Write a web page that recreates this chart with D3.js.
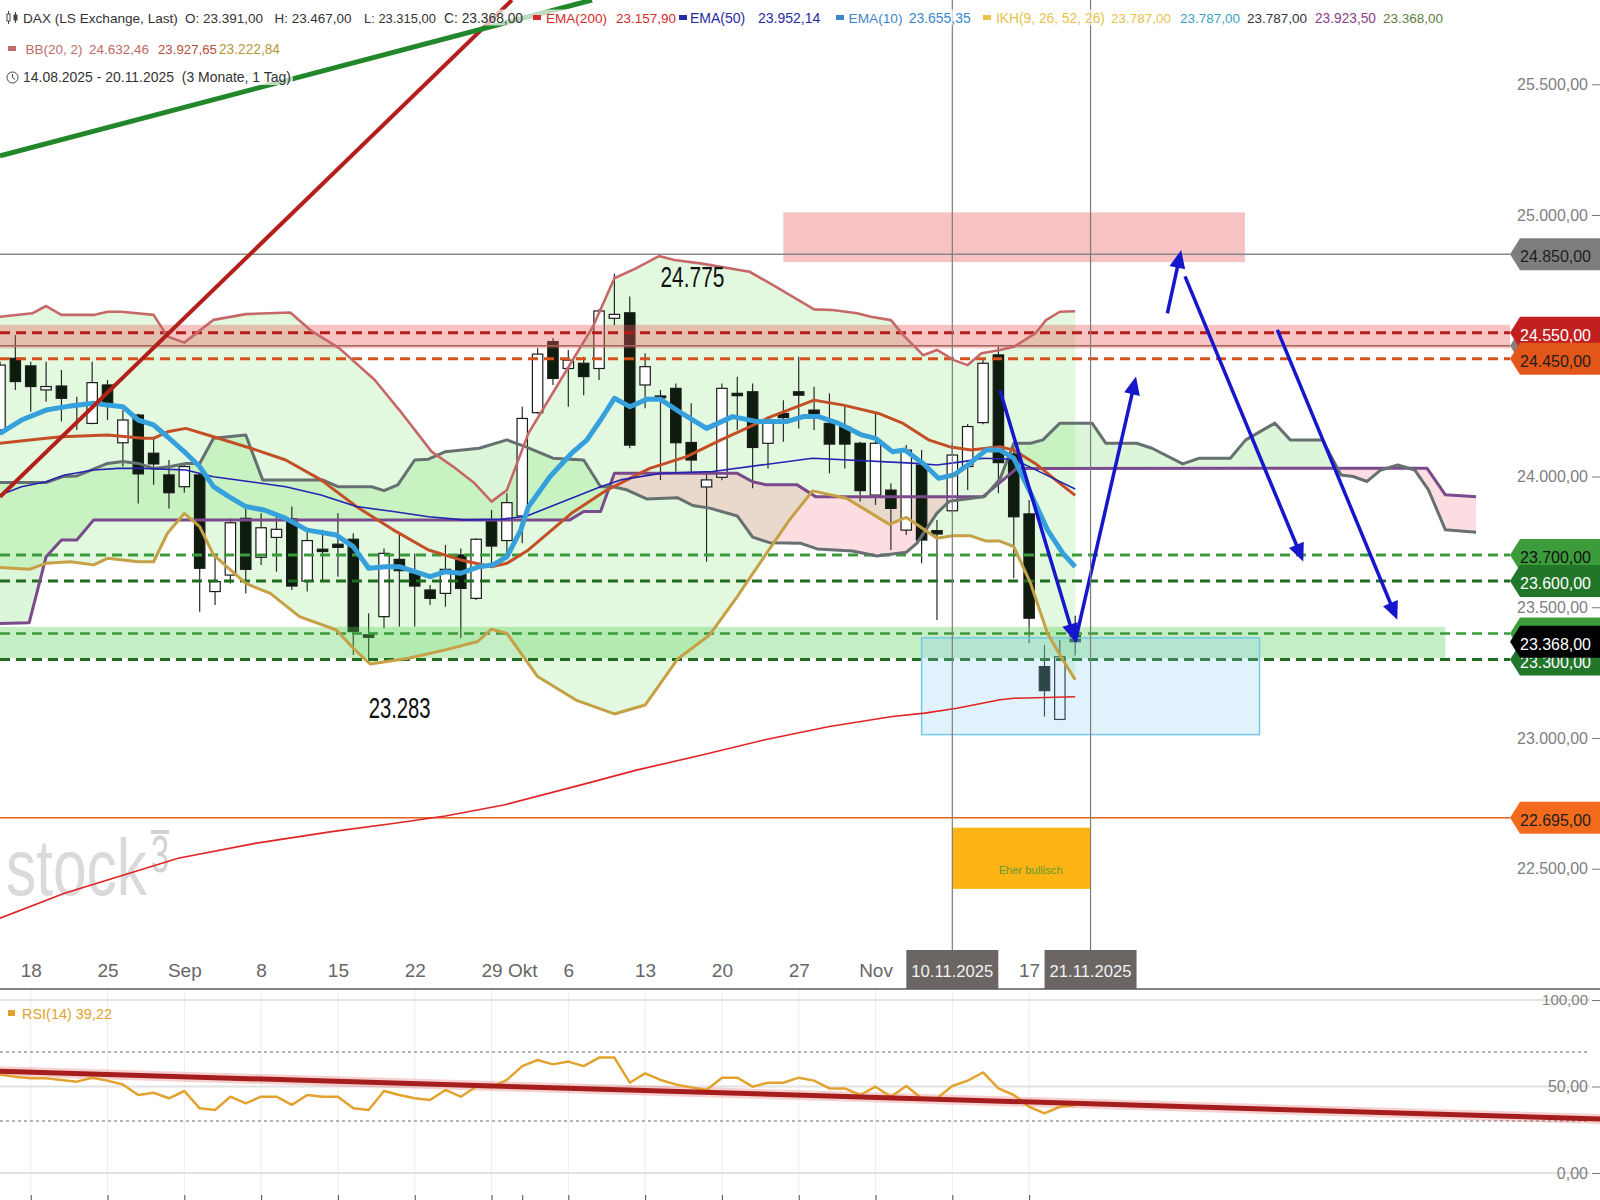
<!DOCTYPE html>
<html><head><meta charset="utf-8">
<script src="https://cdn.jsdelivr.net/npm/d3@7"></script>
<style>html,body{margin:0;padding:0;background:#fff;}svg{display:block;font-family:"Liberation Sans",Arial,sans-serif;}text{white-space:pre;}</style>
</head><body><svg id="chart" width="1600" height="1200"></svg>
<script>
// ---------- DATA ----------
const openVals  = [24178,24452,24423,24331,24346,24270,24203,24350,24129,24235,24089,24006,23961,24006,23560,23623,23840,23691,23767,23838,23600,23722,23741,23760,23395,23464,23683,23630,23566,23553,23700,23534,23834,23755,23849,24244,24516,24413,24433,24413,24605,24626,24350,24308,24337,24130,23960,23997,24318,24324,24127,24241,24324,24254,24203,24190,24127,23929,23948,23795,24044,23793,23869,24038,24206,24465,24086,23857,23273,23071,23391];
const highVals  = [24440,24541,24439,24439,24407,24305,24439,24369,24254,24240,24152,24063,24050,24012,23693,23840,23885,23859,23846,23885,23796,23796,23859,23783,23477,23725,23776,23706,23585,23738,23725,23764,23872,23936,24267,24490,24530,24484,24458,24640,24775,24688,24471,24331,24356,24280,24012,24356,24381,24356,24229,24292,24458,24343,24318,24267,24133,24248,23974,24120,24101,23834,24127,24201,24446,24497,24120,23910,23356,23375,23467];
const lowVals   = [24160,24331,24248,24286,24210,24178,24200,24216,24038,23897,23968,23878,23938,23483,23509,23591,23553,23662,23636,23566,23560,23604,23617,23317,23283,23420,23426,23426,23509,23502,23381,23528,23668,23693,23745,24240,24350,24267,24311,24369,24579,24108,24261,23986,24018,24018,23674,23986,24178,23955,24031,24133,24184,24178,24012,24031,23904,23891,23719,23776,23668,23451,23860,23948,24200,23936,23611,23362,23082,23071,23315];
const closeVals = [24426,24363,24344,24344,24299,24276,24359,24280,24216,24010,24048,23938,24038,23649,23598,23823,23645,23804,23798,23581,23755,23713,23729,23407,23385,23706,23640,23581,23534,23645,23572,23760,23734,23900,24222,24468,24375,24445,24382,24633,24620,24120,24420,24301,24129,24063,23987,24337,24309,24111,24203,24225,24311,24241,24124,24124,23946,24127,23878,24101,23757,23780,24082,24191,24433,24053,23846,23458,23181,23311,23368];

const ema10 = [[0,24165],[1.4,24216],[3,24254],[4.6,24270],[6.1,24280],[7,24273],[8,24267],[9,24216],[10,24197],[10.9,24152],[12.1,24089],[13,24038],[13.9,23961],[14.9,23923],[16,23885],[17.2,23872],[18.6,23840],[20,23795],[21.9,23776],[23,23732],[24,23649],[25.1,23655],[26,23655],[27,23636],[28,23617],[29,23636],[30,23630],[31.2,23655],[32.1,23662],[33,23693],[33.9,23795],[34.4,23884],[35.8,23999],[37.2,24088],[38.2,24139],[39.1,24216],[40,24299],[41,24267],[42.1,24295],[43,24295],[44.4,24241],[46,24184],[47.7,24229],[49.3,24210],[51.2,24210],[52.3,24229],[53.3,24229],[54.6,24203],[56.1,24159],[57,24146],[58.1,24095],[58.9,24101],[60.1,24050],[61.1,23993],[62.1,24006],[63,24044],[64.2,24101],[65.1,24101],[66,24070],[67.1,23936],[68.2,23795],[69.2,23706],[70,23655]];
const ema50 = [[0,23929],[1.4,23961],[3,23980],[4.2,24006],[6.1,24025],[7.7,24031],[9.3,24031],[12.1,24025],[13.9,23999],[16.3,23980],[18.6,23961],[20.9,23929],[23.2,23885],[25.6,23866],[27.9,23846],[30.2,23834],[32.6,23836],[34.3,23849],[39.1,23961],[40.4,23987],[43,24012],[46.4,24019],[52.9,24070],[59.4,24051],[61,24044],[62.7,24057],[64,24070],[66,24066],[67.9,24012],[70,23952]];
const ema200 = [[0,22311],[4.2,22406],[7,22457],[11.6,22540],[16.6,22597],[21.6,22642],[25.7,22674],[29,22702],[32.8,22744],[37.4,22814],[41.5,22878],[45.7,22935],[49.8,22993],[54,23044],[58.1,23082],[60.2,23095],[62.3,23114],[65.1,23146],[66,23152],[70,23158]];
const bbUpper = [[0,24611],[2.1,24624],[3,24652],[4,24618],[6.1,24618],[7,24630],[7.9,24630],[10,24618],[10.9,24535],[12,24512],[13.9,24599],[16,24621],[18.9,24627],[20.2,24560],[22.1,24490],[24.4,24369],[26,24254],[28.1,24095],[29.5,24038],[30.9,23974],[32,23904],[33,23948],[34.4,24165],[36.5,24369],[38.6,24573],[40,24758],[41.4,24796],[42.9,24843],[43.9,24828],[45.6,24815],[48.8,24783],[50.5,24726],[53,24639],[54.2,24637],[55.8,24624],[56.7,24611],[58,24598],[58.9,24535],[60.1,24464],[61,24484],[62.1,24445],[63,24426],[63.9,24471],[65.1,24484],[66,24496],[67.4,24547],[68.1,24598],[69,24630],[70,24632]];
const bbMiddle = [[0,24127],[3,24146],[4,24152],[7,24159],[9.3,24146],[10,24146],[10.9,24171],[12.1,24184],[13.9,24152],[16.7,24101],[18.6,24063],[20.9,23987],[23.2,23885],[25.6,23796],[27.9,23719],[30,23681],[32,23655],[33,23668],[34.4,23719],[37.2,23859],[39.5,23948],[42.3,24031],[44.7,24076],[46.9,24139],[48.8,24190],[50.2,24229],[53,24292],[54.9,24273],[57.2,24241],[58.8,24203],[60.5,24139],[61.8,24114],[63.2,24101],[65.1,24114],[66,24101],[67.4,24050],[69,23974],[70,23928]];
const bbLower = [[0,23652],[1.9,23645],[3,23668],[4.6,23674],[6.1,23662],[7,23687],[9,23674],[10,23674],[10.9,23783],[12,23859],[13,23808],[13.9,23700],[16,23591],[17.6,23553],[19.5,23464],[21.9,23413],[23,23343],[24.1,23283],[26.6,23305],[29,23337],[31.1,23369],[32,23416],[33,23400],[35,23235],[37.5,23145],[40,23092],[42,23126],[44.1,23301],[46.2,23394],[48,23541],[49.9,23706],[51.4,23834],[52.9,23945],[55.1,23917],[56.2,23878],[57.9,23817],[59,23844],[61,23764],[62,23773],[63.2,23773],[64.2,23753],[65.1,23753],[66,23732],[67.1,23591],[68.2,23400],[69.2,23298],[70,23223]];
const spanA = [[0,23977],[3,23977],[4.1,24000],[5,24002],[7,24050],[8,24057],[9,24050],[10,24031],[11.1,24038],[12.1,24050],[13,24050],[13.9,24146],[16,24159],[17.1,23987],[21,23987],[22,23961],[24.2,23961],[25,23946],[25.9,23968],[27,24063],[27.9,24066],[29,24095],[31.2,24108],[33,24140],[34.2,24114],[36,24070],[38,24063],[39.1,23961],[39.9,23961],[40.8,23949],[42.1,23914],[44.1,23919],[45.1,23889],[46.2,23879],[48,23849],[49,23768],[50.1,23747],[52.1,23745],[53.2,23723],[55.5,23715],[57.1,23696],[59,23710],[59.7,23745],[61,23860],[61.8,23905],[64.1,23923],[65.1,23990],[66,24127],[67.1,24127],[67.9,24140],[69,24204],[71.1,24204],[72,24127],[74,24127],[75,24108],[77,24048],[78.1,24070],[80.1,24070],[81.1,24140],[83,24204],[84,24140],[86.1,24140],[87.3,24006],[88.1,24000],[89,23981],[89.9,24025],[91,24044],[92.1,24025],[93,23949],[94.1,23796],[96.1,23787]];
const spanB = [[0,23438],[1.9,23441],[3,23693],[4,23757],[5,23757],[6.1,23834],[37.1,23834],[38,23866],[39.1,23866],[40,24012],[48,24012],[49,23980],[49.9,23968],[51.9,23968],[53.1,23923],[64,23923],[66.2,24031],[92.9,24032],[94.1,23930],[96.1,23923]];
const rsiVals = [57.0,55.7,54.7,54.7,53.8,52.8,55.1,53.4,51.2,45.1,46.4,43.2,47.4,37.4,36.4,44.1,40.3,44.1,44.1,39.4,45.1,44.1,44.1,37.4,36.4,47.4,45.1,43.2,42.2,48.0,44.1,49.9,49.5,53.8,61.8,65.3,62.8,64.4,61.8,66.7,66.7,52.2,57.6,53.8,51.2,49.5,48.0,55.1,55.1,49.9,52.2,52.2,55.1,53.4,48.9,48.9,45.1,49.9,44.1,50.3,43.2,43.2,50.3,53.4,58.1,48.9,45.1,38.3,34.5,38.3,39.2];
const rsiTrend = [[0,58.8],[104.17,31.2]];
const redTrend = [[0,23922],[33.33,25822]];
const greenTrend = [[0,25226],[38.54,25822]];
const levelValues = [24850,24550,24500,24450,23700,23600,23400,23300,22695];
const flagValues = [24500,24850,24550,24450,23700,23600,23400,23300,23368,22695];
const hiddenFlagText = [24500,23400];
const priceTicks = [22500,23000,23500,24000,25000,25500];
const supportZone = [23305,23425];
const resistZone = [24490,24580];
const targetZone = {i0:51.0,i1:81.05,v0:24820,v1:25010};
const blueZone = {i0:60.0,i1:82.0,v0:23013,v1:23383};
const signalBox = {i0:62,i1:71,v0:22423,v1:22657};
const arrows = [[[65.1,24330],[70.0,23368]],[[70.0,23368],[73.96,24382]],[[76.0,24624],[76.9,24866]],[[77.15,24765],[84.85,23675]],[[83.16,24561],[90.97,23452]]];
const tickIdx = [2,7,12,17,22,27,32,34,37,42,47,52,57,67];
const tickLabels = ["18","25","Sep","8","15","22","29","Okt","6","13","20","27","Nov","17"];
const boxIdx = [62,71];
const boxLabels = ["10.11.2025","21.11.2025"];
const mondayIdx = [2,7,12,17,22,27,32,37,42,47,52,57,62,67];
const bottomTickIdx = [2,7,12,17,22,27,32,34,37,42,47,52,57,62,67];
const annotations = [{i:43.0,v:24725,t:"24.775"},{i:24.0,v:23076,t:"23.283"}];

// ---------- SCALES ----------
const svg = d3.select('#chart');
const x = d3.scaleLinear().domain([0, 1600/15.36]).range([0,1600]);
const y = d3.scaleLinear().domain([22196.9, 25822.2]).range([948, 0]);
const yR = d3.scaleLinear().domain([0,100]).range([1173,1000]);
const loc = d3.formatLocale({decimal:",",thousands:".",grouping:[3],currency:["",""]});
const fmt = loc.format(",.2f");
const NARROW = '"Liberation Sans Narrow","Arial Narrow","Liberation Sans",Arial,sans-serif';

const defs = svg.append('defs');
defs.append('clipPath').attr('id','plotClip').append('rect').attr('x',0).attr('y',0).attr('width',1600).attr('height',948);
defs.append('clipPath').attr('id','aboveB').append('path').attr('d', d3.area().x(d=>x(d[0])).y0(0).y1(d=>y(d[1]))(spanB));
defs.append('clipPath').attr('id','belowB').append('path').attr('d', d3.area().x(d=>x(d[0])).y0(d=>y(d[1])).y1(948)(spanB));

const line = d3.line().x(d=>x(d[0])).y(d=>y(d[1]));
function between(a,b){
  const pa=a.map(p=>[x(p[0]),y(p[1])]);
  const pb=b.slice().reverse().map(p=>[x(p[0]),y(p[1])]);
  return 'M'+pa.concat(pb).map(p=>p[0].toFixed(1)+','+p[1].toFixed(1)).join('L')+'Z';
}
function fit(t,maxW){
  const n=t.node(); const s=+t.attr('font-size'); const w=n.getComputedTextLength();
  if(w>maxW) t.attr('font-size',(s*maxW/w).toFixed(2));
  return t;
}
function txt(g,xx,yy,s,o){
  const t=g.append('text').attr('x',xx).attr('y',yy).text(s).attr('font-size',o.size).attr('fill',o.fill||'#333');
  if(o.anchor) t.attr('text-anchor',o.anchor);
  if(o.family) t.attr('font-family',o.family);
  if(o.weight) t.attr('font-weight',o.weight);
  if(o.max) fit(t,o.max);
  return t;
}
function ctext(g,xx,yy,s,size,w,fill){
  const gg=g.append('g').attr('transform',`translate(${xx},${yy})`);
  const t=gg.append('text').attr('x',0).attr('y',0).attr('font-size',size).attr('fill',fill).text(s);
  const nat=t.node().getComputedTextLength();
  gg.attr('transform',`translate(${xx},${yy}) scale(${(w/nat).toFixed(3)},1)`);
  return t;
}

const g = svg.append('g').attr('clip-path','url(#plotClip)');

// watermark
ctext(g,6,895,'stock',80,141,'#dadada');
ctext(g,151,872,'3',52,18,'#d2d2d2');
g.append('rect').attr('x',151).attr('y',830).attr('width',18).attr('height',4).attr('fill','#d2d2d2');

// BB fill and cloud
g.append('path').attr('d',between(bbUpper,bbLower)).attr('fill','rgba(150,235,140,0.28)');
g.append('path').attr('d',between(spanA,spanB)).attr('fill','rgba(140,225,130,0.30)').attr('clip-path','url(#aboveB)');
g.append('path').attr('d',between(spanA,spanB)).attr('fill','rgba(245,150,165,0.32)').attr('clip-path','url(#belowB)');

// candles
const idx = d3.range(closeVals.length);
g.append('g').selectAll('line').data(idx).join('line')
  .attr('x1',i=>x(i)).attr('x2',i=>x(i)).attr('y1',i=>y(highVals[i])).attr('y2',i=>y(lowVals[i]))
  .attr('stroke','#2a2a2a').attr('stroke-width',1.2);
g.append('g').selectAll('rect').data(idx).join('rect')
  .attr('x',i=>x(i)-5.2).attr('width',10.4)
  .attr('y',i=>y(Math.max(openVals[i],closeVals[i])))
  .attr('height',i=>Math.max(1.5,Math.abs(y(openVals[i])-y(closeVals[i]))))
  .attr('fill',i=>closeVals[i]>=openVals[i]?'#ffffff':'#0e1c0e')
  .attr('stroke','#1c1c1c').attr('stroke-width',1.2);

// zones
g.append('rect').attr('x',x(0)).attr('width',x(94.1)-x(0)).attr('y',y(supportZone[1])).attr('height',y(supportZone[0])-y(supportZone[1])).attr('fill','rgba(90,205,90,0.35)');
g.append('rect').attr('x',x(0)).attr('width',1510).attr('y',y(resistZone[1])).attr('height',y(resistZone[0])-y(resistZone[1])).attr('fill','rgba(235,90,90,0.36)');
g.append('rect').attr('x',x(targetZone.i0)).attr('width',x(targetZone.i1)-x(targetZone.i0)).attr('y',y(targetZone.v1)).attr('height',y(targetZone.v0)-y(targetZone.v1)).attr('fill','rgba(235,95,95,0.38)');

// horizontal levels
const lvStyle = [
  {c:'#8a8a8a',w:1.5,d:null},{c:'#b51c1c',w:3,d:'10,6'},{c:'#a0665c',w:1.5,d:null},{c:'#d6521c',w:3,d:'10,6'},
  {c:'#3b9a3b',w:3,d:'10,6'},{c:'#1f6b1f',w:3,d:'10,6'},{c:'#3b9a3b',w:2.5,d:'10,6'},{c:'#1f6b1f',w:3,d:'10,6'},{c:'#e2621c',w:1.5,d:null}];
g.append('g').selectAll('line').data(levelValues).join('line')
  .attr('x1',0).attr('x2',1510).attr('y1',d=>y(d)).attr('y2',d=>y(d))
  .attr('stroke',(d,k)=>lvStyle[k].c).attr('stroke-width',(d,k)=>lvStyle[k].w).attr('stroke-dasharray',(d,k)=>lvStyle[k].d);

// blue zone + signal box
g.append('rect').attr('x',x(blueZone.i0)).attr('width',x(blueZone.i1)-x(blueZone.i0)).attr('y',y(blueZone.v1)).attr('height',y(blueZone.v0)-y(blueZone.v1)).attr('fill','rgba(130,205,240,0.25)').attr('stroke','#74c8e6').attr('stroke-width',1.5);
g.append('rect').attr('x',x(signalBox.i0)).attr('width',x(signalBox.i1)-x(signalBox.i0)).attr('y',y(signalBox.v1)).attr('height',y(signalBox.v0)-y(signalBox.v1)).attr('fill','#fdb515');
txt(g,x(67.1),y(22497)+4,'Eher bullisch',{size:13,fill:'#5f9a2c',anchor:'middle',max:64});

// indicator lines
const lines = [
  [ema200,'#e02424',1.6],[spanB,'#7b4a8c',3],[spanA,'#667070',3],[bbLower,'#c6a044',3],[bbUpper,'#c66868',2.6],
  [bbMiddle,'#c44e26',3],[ema50,'#2424b0',1.6],[ema10,'#36a0dc',5]];
lines.forEach(l=>g.append('path').attr('d',line(l[0])).attr('fill','none').attr('stroke',l[1]).attr('stroke-width',l[2]).attr('stroke-linejoin','round'));

// trend lines
g.append('path').attr('d',line(redTrend)).attr('stroke','#b3201c').attr('stroke-width',4).attr('fill','none');
g.append('path').attr('d',line(greenTrend)).attr('stroke','#22862a').attr('stroke-width',5).attr('fill','none');

// arrows
arrows.forEach(a=>{
  const p0=[x(a[0][0]),y(a[0][1])], p1=[x(a[1][0]),y(a[1][1])];
  const dx=p1[0]-p0[0], dy=p1[1]-p0[1], L=Math.hypot(dx,dy), ux=dx/L, uy=dy/L;
  const hl=18, hw=8;
  const b=[p1[0]-ux*hl,p1[1]-uy*hl];
  g.append('line').attr('x1',p0[0]).attr('y1',p0[1]).attr('x2',b[0]+ux*2).attr('y2',b[1]+uy*2).attr('stroke','#1616cc').attr('stroke-width',3.5);
  g.append('polygon').attr('points',[p1,[b[0]-uy*hw,b[1]+ux*hw],[b[0]+uy*hw,b[1]-ux*hw]].map(p=>p.join(',')).join(' ')).attr('fill','#1616cc');
});

// annotations
ctext(g,x(annotations[0].i),y(annotations[0].v),annotations[0].t,30,64,'#111');
ctext(g,x(annotations[1].i),y(annotations[1].v),annotations[1].t,30,62,'#111');

// vertical markers
svg.append('g').selectAll('line').data(boxIdx).join('line')
  .attr('x1',d=>x(d)).attr('x2',d=>x(d)).attr('y1',0).attr('y2',989).attr('stroke','#7c7c7c').attr('stroke-width',1.2);

// price axis
const yAxis = d3.axisLeft(y).tickValues(priceTicks).tickFormat(fmt).tickSize(8).tickPadding(4);
const ya = svg.append('g').attr('transform','translate(1600,0)').call(yAxis);
ya.select('.domain').remove();
ya.selectAll('line').attr('stroke','#777');
ya.selectAll('text').attr('font-size',21).attr('fill','#808080').attr('font-family',NARROW).each(function(){fit(d3.select(this),71);});

// flags
const flagStyle = {24500:['#8c7c7c','#222'],24850:['#7d7d7d','#1e1e1e'],24550:['#c21f1f','#ffffff'],24450:['#e3561a','#1e1e1e'],23700:['#3c9c3c','#111'],23600:['#22762a','#ffffff'],23400:['#3c9c3c','#111'],23300:['#22762a','#ffffff'],23368:['#000000','#ffffff'],22695:['#f26b1d','#1e1e1e']};
const fg = svg.append('g');
flagValues.forEach(v=>{
  const yy=y(v), h=16;
  fg.append('polygon').attr('points',[[1510,yy],[1520,yy-h],[1600,yy-h],[1600,yy+h],[1520,yy+h]].map(p=>p.join(',')).join(' ')).attr('fill',flagStyle[v][0]);
  if(hiddenFlagText.indexOf(v)<0) txt(fg,1591,yy+8,fmt(v),{size:23,fill:flagStyle[v][1],anchor:'end',family:NARROW,max:71});
});

// x axis
const xa = svg.append('g').attr('transform','translate(0,977)')
  .call(d3.axisBottom(x).tickValues(tickIdx).tickFormat((d,k)=>tickLabels[k]).tickSize(0));
xa.select('.domain').remove();
xa.selectAll('text').attr('y',0).attr('dy',null).attr('font-size',19).attr('fill','#666').attr('font-family',NARROW);
const bx = svg.append('g');
boxIdx.forEach((d,k)=>{
  bx.append('rect').attr('x',x(d)-46).attr('y',950).attr('width',92).attr('height',39).attr('fill','#6b6663');
  txt(bx,x(d),977,boxLabels[k],{size:19,fill:'#f2f2f2',anchor:'middle',family:NARROW,max:82});
});
svg.append('line').attr('x1',0).attr('x2',1600).attr('y1',989).attr('y2',989).attr('stroke','#5a5a5a').attr('stroke-width',1.5);

// RSI panel
const rp = svg.append('g');
rp.selectAll('line.grid').data(mondayIdx).join('line').attr('class','grid')
  .attr('x1',d=>x(d)).attr('x2',d=>x(d)).attr('y1',990).attr('y2',1195).attr('stroke','#ececec').attr('stroke-width',1);
[100,50,0].forEach(v=>rp.append('line').attr('x1',0).attr('x2',1590).attr('y1',yR(v)).attr('y2',yR(v)).attr('stroke','#e2e2e2').attr('stroke-width',2));
[70,30].forEach(v=>rp.append('line').attr('x1',0).attr('x2',1590).attr('y1',yR(v)).attr('y2',yR(v)).attr('stroke','#9a9a9a').attr('stroke-width',1.5).attr('stroke-dasharray','3,3'));
const rAxis = rp.append('g').attr('transform','translate(1600,0)').call(d3.axisLeft(yR).tickValues([0,50,100]).tickFormat(fmt).tickSize(8).tickPadding(4));
rAxis.select('.domain').remove();
rAxis.selectAll('line').attr('stroke','#777');
rAxis.selectAll('text').attr('font-size',16).attr('fill','#808080').attr('font-family',NARROW).each(function(){fit(d3.select(this),46);});
rp.append('path').attr('d',d3.line().x(d=>x(d[0])).y(d=>yR(d[1]))(rsiTrend)).attr('stroke','rgba(220,70,70,0.25)').attr('stroke-width',10).attr('fill','none');
rp.append('path').attr('d',d3.line().x((d,i)=>x(i)).y(d=>yR(d))(rsiVals)).attr('stroke','#e3a22e').attr('stroke-width',2.5).attr('fill','none').attr('stroke-linejoin','round');
rp.append('path').attr('d',d3.line().x(d=>x(d[0])).y(d=>yR(d[1]))(rsiTrend)).attr('stroke','#a51d1d').attr('stroke-width',5).attr('fill','none');
rp.append('rect').attr('x',8).attr('y',1010).attr('width',7).attr('height',6).attr('fill','#e3a22e');
txt(rp,22,1019,'RSI(14) 39,22',{size:17,fill:'#e3a22e',family:NARROW,max:90});
const bt = rp.append('g').attr('transform','translate(0,1195)').call(d3.axisBottom(x).tickValues(bottomTickIdx).tickSize(5).tickFormat(''));
bt.select('.domain').remove(); bt.selectAll('line').attr('stroke','#444');

// legend
const lg = svg.append('g');
function row(yb, items, squares){
  const r = lg.append('g');
  items.forEach(it=>txt(r,it[0],yb,it[1],{size:14,fill:it[2],max:it[3]}));
  const bb = r.node().getBBox();
  r.insert('rect',':first-child').attr('x',bb.x-2).attr('y',bb.y).attr('width',bb.width+4).attr('height',bb.height).attr('fill','rgba(255,255,255,0.7)');
  (squares||[]).forEach(s=>r.append('rect').attr('x',s[0]).attr('y',yb-7.5).attr('width',8).attr('height',5).attr('fill',s[1]));
  return r;
}
row(22.5,[[23,'DAX (LS Exchange, Last)','#333',155],[185,'O: 23.391,00','#333',78],[274.5,'H: 23.467,00','#333',77],[364,'L: 23.315,00','#333',72],[444,'C: 23.368,00','#333',79],
  [546,'EMA(200)','#d42a2a',61],[616,'23.157,90','#d42a2a',60],[690,'EMA(50)','#2a2aa0',57],[758,'23.952,14','#2a2aa0',64],
  [848.5,'EMA(10)','#3a86c8',54],[908.7,'23.655,35','#3a86c8',62],[996,'IKH(9, 26, 52, 26)','#e8c24a',109],[1111,'23.787,00','#e8c24a',60],
  [1180,'23.787,00','#3aa3bb',60],[1247,'23.787,00','#2e3338',60],[1315,'23.923,50','#8b3f8b',61],[1383,'23.368,00','#5a8040',60]],
  [[533,'#d42a2a'],[679,'#2a2aa0'],[836,'#3a86c8'],[983,'#e8c24a']]);
row(53.5,[[25.5,'BB(20, 2)','#c06a6a',57],[89,'24.632,46','#c06a6a',60],[158,'23.927,65','#b5503a',59],[219,'23.222,84','#b8983e',61]],[[8,'#c06a6a']]);
row(82,[[23,'14.08.2025 - 20.11.2025  (3 Monate, 1 Tag)','#333',268]]);
// icons
const ic = lg.append('g').attr('stroke','#444').attr('stroke-width',1).attr('fill','none');
ic.append('line').attr('x1',8.5).attr('x2',8.5).attr('y1',11).attr('y2',24);
ic.append('rect').attr('x',7).attr('y',14).attr('width',3).attr('height',7).attr('fill','#fff');
ic.append('line').attr('x1',15.5).attr('x2',15.5).attr('y1',12).attr('y2',23);
ic.append('rect').attr('x',14).attr('y',15).attr('width',3).attr('height',5).attr('fill','#444');
ic.append('circle').attr('cx',12.5).attr('cy',77.5).attr('r',5.5);
ic.append('path').attr('d','M12.5,74 V77.5 L15,79.5');
</script></body></html>
